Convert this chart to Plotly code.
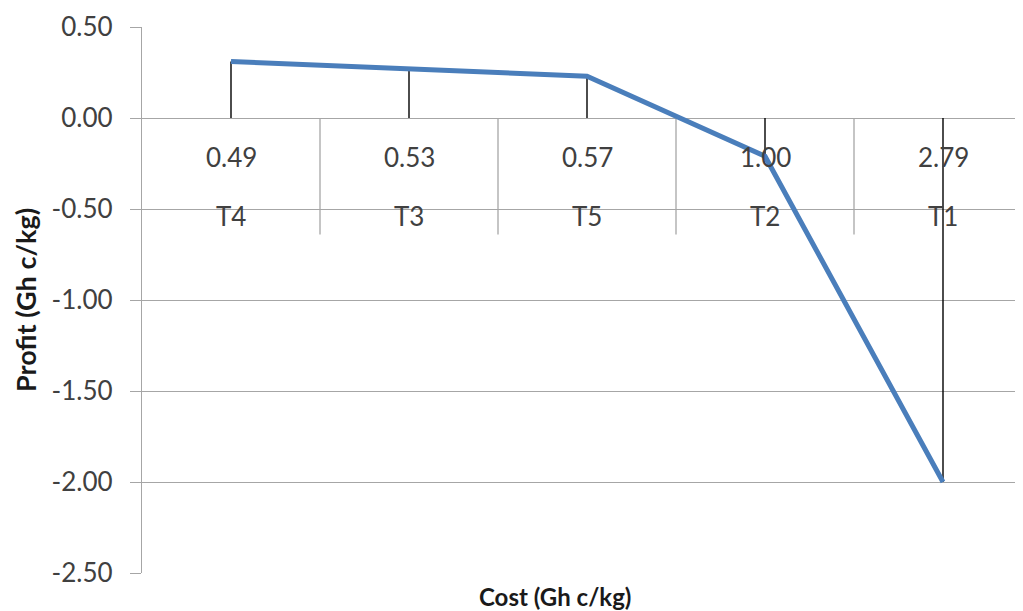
import plotly.graph_objects as go

treatments = ["T4", "T3", "T5", "T2", "T1"]
costs = ["0.49", "0.53", "0.57", "1.00", "2.79"]
profit = [0.31, 0.27, 0.23, -0.21, -2.00]
y_tick_vals = [0.5, 0.0, -0.5, -1.0, -1.5, -2.0, -2.5]
y_tick_text = ["0.50", "0.00", "-0.50", "-1.00", "-1.50", "-2.00", "-2.50"]

GRID = "#A6A6A6"
TXT = "#404040"
FONT = "Lato"

# the page body has an 8px default margin; compensate so the plot lands where the reference has it
OFF = 8
W, H = 1023 - OFF, 611 - OFF
ml, mr, mt, mb = 142 - OFF, 0, 27 - OFF, 38
pw, ph = W - ml - mr, H - mt - mb

fig = go.Figure()

# drop lines from each point to the category axis
dx, dy = [], []
for t, v in zip(treatments, profit):
    dx += [t, t, None]
    dy += [0, v, None]
fig.add_trace(go.Scatter(x=dx, y=dy, mode="lines",
                         line=dict(color="#000000", width=1.4),
                         hoverinfo="skip", showlegend=False))

fig.add_trace(go.Scatter(x=treatments, y=profit, mode="lines",
                         line=dict(color="#4A7EBB", width=5),
                         showlegend=False))

shapes = []
for i in range(1, len(treatments)):
    shapes.append(dict(type="line", xref="x", yref="y", x0=i - 0.5, x1=i - 0.5,
                       y0=0, y1=-0.64, line=dict(color=GRID, width=1.3), layer="below"))

annotations = []
for i, (c, t) in enumerate(zip(costs, treatments)):
    annotations.append(dict(x=i, y=-0.215, xref="x", yref="y", text=c, showarrow=False,
                            font=dict(family=FONT, size=26, color=TXT),
                            xanchor="center", yanchor="middle"))
    annotations.append(dict(x=i, y=-0.54, xref="x", yref="y", text=t, showarrow=False,
                            font=dict(family=FONT, size=26, color=TXT),
                            xanchor="center", yanchor="middle"))


def page_to_paper(px, py):
    return (px - OFF - ml) / pw, (OFF + H - mb - py) / ph


xt, yt = page_to_paper(555, 596)
annotations.append(dict(x=xt, y=yt, xref="paper", yref="paper", text="<b>Cost (Gh c/kg)</b>",
                        showarrow=False, xanchor="center", yanchor="middle",
                        font=dict(family=FONT, size=24, color="#1a1a1a")))
xt, yt = page_to_paper(25, 300)
annotations.append(dict(x=xt, y=yt, xref="paper", yref="paper", text="<b>Profit (Gh c/kg)</b>",
                        showarrow=False, textangle=-90, xanchor="center", yanchor="middle",
                        font=dict(family=FONT, size=27, color="#1a1a1a")))

fig.update_layout(
    width=W, height=H,
    margin=dict(l=ml, r=mr, t=mt, b=mb, pad=0),
    paper_bgcolor="white", plot_bgcolor="white",
    shapes=shapes, annotations=annotations,
    xaxis=dict(type="category", categoryorder="array", categoryarray=treatments,
               range=[-0.5, -0.5 + pw / 178.0], showticklabels=False,
               showgrid=False, zeroline=False, showline=False, ticks=""),
    yaxis=dict(range=[-2.5, 0.5], tickvals=y_tick_vals, ticktext=y_tick_text,
               showgrid=True, gridcolor=GRID, gridwidth=1.3,
               zeroline=False, showline=True, linecolor=GRID, linewidth=1.3,
               ticks="outside", ticklen=11, tickcolor=GRID, tickwidth=1.3,
               ticklabelstandoff=12,
               tickfont=dict(family=FONT, size=26, color=TXT)),
)

fig.write_html("out.html")
